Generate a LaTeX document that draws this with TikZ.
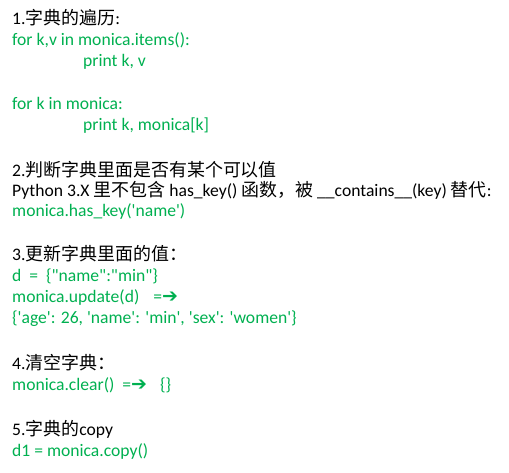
\documentclass[tikz,border=0pt]{standalone}
\usepackage{fontspec}
\setmainfont{Carlito}[Ligatures=TeXOff]
\newfontfamily\cjk{Noto Sans CJK SC}[Scale=1.02]
\newfontfamily\arrowfont{DejaVu Sans}
\definecolor{codegreen}{RGB}{0,176,80}
\newcommand{\zh}[1]{{\cjk #1}}
\newcommand{\fatarrow}{{\arrowfont\bfseries\fontsize{19}{19}\selectfont ➔}}
\tikzset{
  heading/.style={anchor=base west, inner sep=0pt, font=\fontsize{17.6}{20}\selectfont, text=black},
  code/.style={heading, text=codegreen},
}
\begin{document}
\begin{tikzpicture}[x=1pt,y=-1pt]
    \useasboundingbox (0,0) rectangle (509,472);
    % 1. iterate
    \node[heading] (h1) at (12,24) {1.\zh{字典的遍历}:};
    \node[code] (c1a) at (12,45) {for k,v in monica.items():};
    \node[code] (c1b) at (83,66.5) {print k, v};
    \node[code] (c1c) at (12,109.5) {for k in monica:};
    \node[code] (c1d) at (83,130.5) {print k, monica[k]};
    % 2. has key
    \node[heading] (h2) at (12,176) {2.\zh{判断字典里面是否有某个可以值}};
    \node[heading] (t2) at (12,196) {Python 3.X \zh{里不包含} has\_key() \zh{函数，被} \_\_contains\_\_(key) \zh{替代}:};
    \node[code] (c2) at (12,216.5) {monica.has\_key('name')};
    % 3. update
    \node[heading] (h3) at (12,260.7) {3.\zh{更新字典里面的值：}};
    \node[code] (c3a) at (12,281) {d\ \ =\ \ \{"name":"min"\}};
    \node[code] (c3b) at (12,302.7) {monica.update(d)\hspace{14pt}=\fatarrow};
    \node[code] (c3c) at (12,323) {\{'age': 26, 'name': 'min', 'sex': 'women'\}};
    % 4. clear
    \node[heading] (h4) at (12,369) {4.\zh{清空字典：}};
    \node[code] (c4) at (12,390.5) {monica.clear()\hspace{8pt}=\fatarrow\hspace{13pt}\{\}};
    % 5. copy
    \node[heading] (h5) at (12,435) {5.\zh{字典的}copy};
    \node[code] (c5) at (12,456.5) {d1 = monica.copy()};
\end{tikzpicture}
\end{document}
